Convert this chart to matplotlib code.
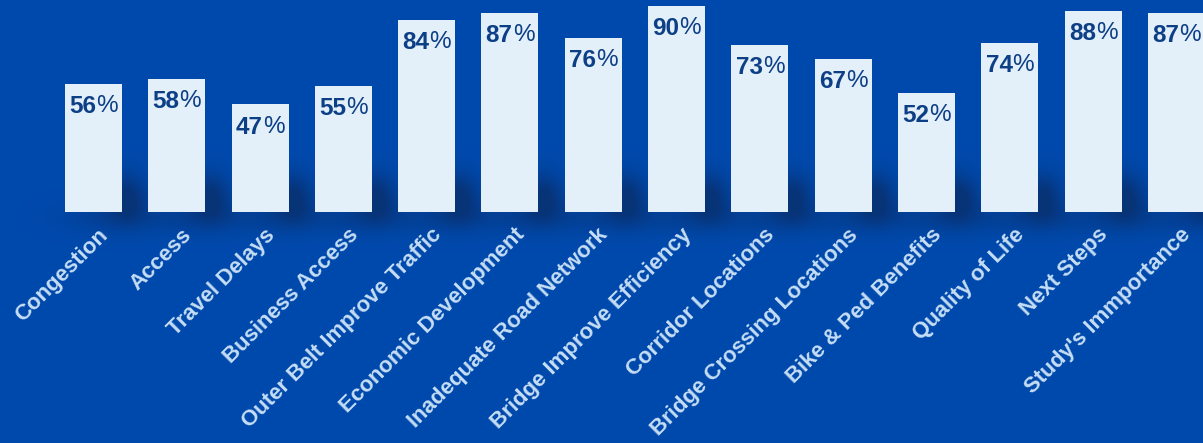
import matplotlib.pyplot as plt
import numpy as np

categories = ['Congestion', 'Access', 'Travel Delays', 'Business Access',
              'Outer Belt Improve Traffic', 'Economic Development',
              'Inadequate Road Network', 'Bridge Improve Efficiency',
              'Corridor Locations', 'Bridge Crossing Locations',
              'Bike & Ped Benefits', 'Quality of Life', 'Next Steps',
              "Study's Immportance"]
values = [56, 58, 47, 55, 84, 87, 76, 90, 73, 67, 52, 74, 88, 87]

bg_color = '#0049AC'
bar_color = '#E3F0FA'
pct_color = '#0D3F86'
label_color = '#C6DEF5'
shadow_color = '#0A2C66'

plt.rcParams['font.family'] = ['Liberation Sans', 'DejaVu Sans']

fig = plt.figure(figsize=(12.03, 4.43), dpi=100)
fig.patch.set_facecolor(bg_color)
ax = fig.add_axes([0, 0, 1, 1])
ax.set_facecolor(bg_color)

x = np.arange(len(categories))
ax.set_xlim(-1.122, 13.32)
ax.set_ylim(-100.9, 92.6)

# soft shadow behind the foot of each bar
gx = np.linspace(-1.122, 13.32, 1200)
gy = np.linspace(-100.9, 92.6, 450)
GX, GY = np.meshgrid(gx, gy)
alpha = np.zeros_like(GX)
for i in x:
    alpha += np.exp(-((GX - (i + 0.40)) ** 2) / (2 * 0.16 ** 2)
                    - ((GY - 7) ** 2) / (2 * 7 ** 2))
    alpha += 0.45 * np.exp(-((GX - (i + 0.25)) ** 2) / (2 * 0.40 ** 2)
                           - ((GY + 2) ** 2) / (2 * 5 ** 2))
alpha = np.clip(alpha, 0, 1) * 0.75
rgba = np.zeros(GX.shape + (4,))
rgba[..., :3] = plt.matplotlib.colors.to_rgb(shadow_color)
rgba[..., 3] = alpha
ax.imshow(rgba, extent=(gx[0], gx[-1], gy[0], gy[-1]), origin='lower',
          aspect='auto', zorder=1, interpolation='bilinear')

ax.bar(x, values, width=0.684, color=bar_color, zorder=2)

for i, v in zip(x, values):
    ax.annotate(f'{v}', xy=(i, v), xytext=(2, -8), textcoords='offset points',
                ha='right', va='top', fontsize=17.5, fontweight='bold',
                color=pct_color, zorder=3)
    ax.annotate('%', xy=(i, v), xytext=(2, -8), textcoords='offset points',
                ha='left', va='top', fontsize=17.5, color=pct_color, zorder=3)

for i, name in zip(x, categories):
    ax.annotate(name, xy=(i, 0), xytext=(3, -9), textcoords='offset points',
                ha='right', va='top', rotation=45, rotation_mode='anchor',
                fontsize=16, fontweight='bold', color=label_color, zorder=3)

ax.axis('off')
fig.savefig('out.png', dpi=100, facecolor=bg_color)
